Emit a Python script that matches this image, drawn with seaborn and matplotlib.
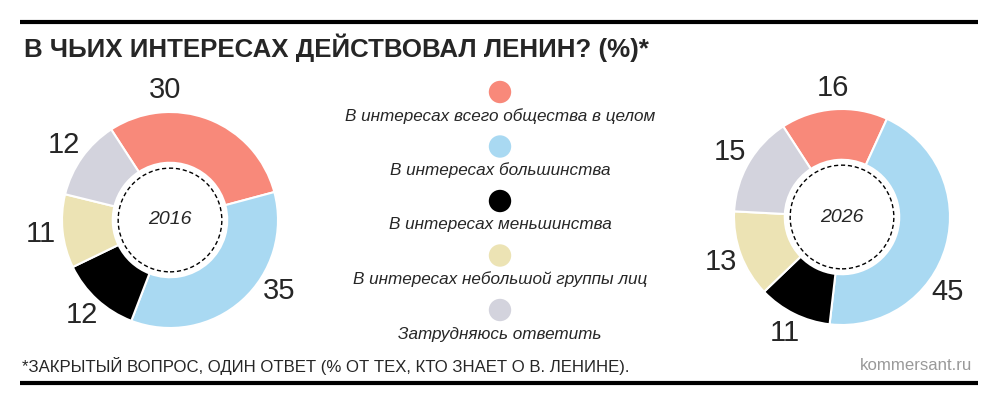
import numpy as np
import matplotlib
matplotlib.use('Agg')
import matplotlib.pyplot as plt
from matplotlib import font_manager
from matplotlib.patches import Circle
import seaborn as sns

sns.set_theme(style='white')

# Data
categories = [
    'В интересах всего общества в целом',
    'В интересах большинства',
    'В интересах меньшинства',
    'В интересах небольшой группы лиц',
    'Затрудняюсь ответить',
]
values_2016 = [30, 35, 12, 11, 12]
values_2026 = [16, 45, 11, 13, 15]
years = ['2016', '2026']
colors = ['#F8897A', '#A9D9F2', '#000000', '#ECE3B4', '#D3D3DD']

title = 'В ЧЬИХ ИНТЕРЕСАХ ДЕЙСТВОВАЛ ЛЕНИН? (%)*'
footnote = '*ЗАКРЫТЫЙ ВОПРОС, ОДИН ОТВЕТ (% ОТ ТЕХ, КТО ЗНАЕТ О В. ЛЕНИНЕ).'
source = 'kommersant.ru'

# Fonts: narrow face if installed
available = {f.name for f in font_manager.fontManager.ttflist}
if 'Liberation Sans Narrow' in available:
    NARROW, NSCALE = 'Liberation Sans Narrow', 1.0
elif 'DejaVu Sans Condensed' in available:
    NARROW, NSCALE = 'DejaVu Sans Condensed', 0.85
else:
    NARROW, NSCALE = 'Liberation Sans', 0.82
plt.rcParams['font.family'] = ['Liberation Sans', 'DejaVu Sans']

W, H = 1000, 405
fig = plt.figure(figsize=(W / 100, H / 100), dpi=100)

# overlay axes in pixel coordinates for text, rules and legend
ov = fig.add_axes([0, 0, 1, 1])
ov.set_xlim(0, W)
ov.set_ylim(H, 0)
ov.axis('off')

ov.plot([20, 978], [22, 22], color='black', lw=3, solid_capstyle='butt')
ov.plot([20, 978], [383, 383], color='black', lw=3, solid_capstyle='butt')
ov.text(24, 48, title, fontsize=18.6, fontweight='bold', va='center', ha='left')
ov.text(22, 366, footnote, fontsize=14.7 * NSCALE, family=[NARROW, 'DejaVu Sans'],
        va='center', ha='left')
ov.text(972, 365, source, fontsize=14.7 * NSCALE, family=[NARROW, 'DejaVu Sans'],
        color='#999999', va='center', ha='right')

# legend: dots with captions under them
leg_y = 92 + 54.5 * np.arange(len(categories))
sns.scatterplot(x=[500] * len(categories), y=leg_y, hue=categories, palette=colors,
                s=260, edgecolor='none', legend=False, ax=ov)
for y, cat in zip(leg_y, categories):
    ov.text(500, y + 24, cat, fontsize=15 * NSCALE, style='italic',
            family=[NARROW, 'DejaVu Sans'], ha='center', va='center')


def donut(cx, cy, values, year, nudges, r_px=108):
    half = 1.4 * r_px
    ax = fig.add_axes([(cx - half) / W, (H - cy - half) / H, 2 * half / W, 2 * half / H])
    wedges, _ = ax.pie(values, colors=colors, startangle=123, counterclock=False,
                       radius=1, wedgeprops=dict(width=0.47, edgecolor='white', linewidth=1.5))
    ax.add_patch(Circle((0, 0), 0.48, fill=False, ec='black', lw=1, ls=(0, (3, 2))))
    ax.text(0, 0, year, fontsize=14, style='italic', ha='center', va='center')
    for w, v, d in zip(wedges, values, nudges):
        a = np.deg2rad((w.theta1 + w.theta2) / 2 + d)
        ax.text(1.2 * np.cos(a), 1.2 * np.sin(a), str(v), fontsize=21,
                ha='center', va='center', clip_on=False)
    ax.set_xlim(-1.4, 1.4)
    ax.set_ylim(-1.4, 1.4)
    ax.set_aspect('equal')
    ax.axis('off')


donut(170, 220, values_2016, years[0], [23, 15, 0, 0, 0])
donut(842, 217, values_2026, years[1], [0, -20, 0, 0, 0])

fig.savefig('out.png', dpi=100, facecolor='white')
